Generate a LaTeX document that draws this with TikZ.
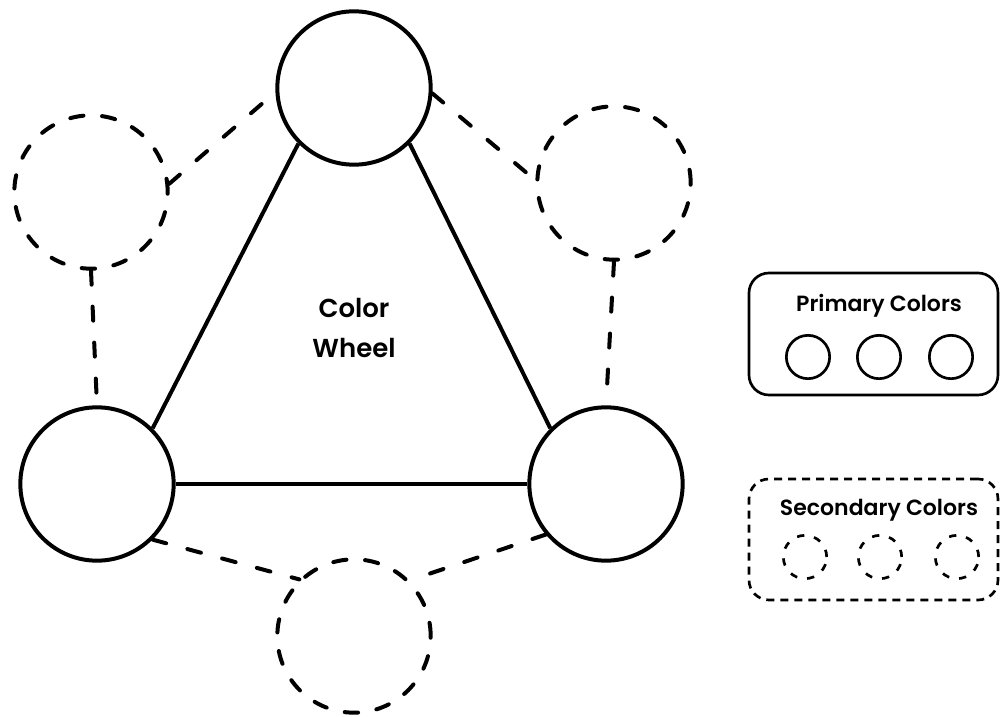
\documentclass[tikz,border=0pt]{standalone}
\usepackage{fontspec}
\setmainfont{Poppins}[BoldFont={Poppins SemiBold}]
\begin{document}
\begin{tikzpicture}[x=0.75pt,y=-0.75pt]
\tikzset{
  prim/.style={circle, draw, line width=3pt, minimum size=115pt, inner sep=0pt},
  sec/.style={prim, line cap=round, dash pattern=on 10pt off 14pt},
  tri/.style={line width=3pt},
  link/.style={line width=3pt, line cap=round, dash pattern=on 10.5pt off 16.5pt},
  legbox/.style={draw, line width=2pt, rounded corners=15pt, minimum width=186.75pt, inner sep=0pt},
  legdot/.style={circle, draw, line width=2pt, minimum size=32.5pt, inner sep=0pt},
  legdash/.style={legdot, dash pattern=on 5.5pt off 7.5pt},
  legtext/.style={font=\fontsize{16.5}{18}\selectfont\bfseries},
}
\useasboundingbox (0,0) rectangle (1000,717);

% primary colours
\node[prim] (top)   at (354,88)  {};
\node[prim] (left)  at (97,484)  {};
\node[prim] (right) at (606,484) {};

% secondary colours
\node[sec] (tl) at (91,192)  {};
\node[sec] (tr) at (614,183) {};
\node[sec] (bot) at (354,636) {};

% triangle of primaries
\draw[tri] (top.-135) -- (left.45);
\draw[tri] (top.-45) -- (right.135);
\draw[tri] (left.east) -- (right.west);

% links to the secondaries
\draw[link] (tl.6) -- (top.183);
\draw[link] (top.-4) -- (tr.178);
\draw[link] (tl.south) -- (left.north);
\draw[link] (tr.south) -- (right.north);
\draw[link] (left.-45) -- (bot.134);
\draw[link] (right.-140) -- (bot.45);

\node[font=\fontsize{19.5}{30}\selectfont\bfseries, align=center] (title) at (354,328) {Color\\Wheel};

% legend
\node[legbox, minimum height=91.5pt] (pbox) at (873.5,334) {};
\node[legtext] (ptext) at (879,306) {Primary Colors};
\node[legdot] (p1) at (808,357) {};
\node[legdot] (p2) at (879,357) {};
\node[legdot] (p3) at (951,357) {};

\node[legbox, dash pattern=on 6pt off 4.5pt, minimum height=90.75pt] (sbox) at (873.5,539.5) {};
\node[legtext] (stext) at (879,510) {Secondary Colors};
\node[legdash] (s1) at (805,557) {};
\node[legdash] (s2) at (880,557) {};
\node[legdash] (s3) at (957,557) {};
\end{tikzpicture}
\end{document}
